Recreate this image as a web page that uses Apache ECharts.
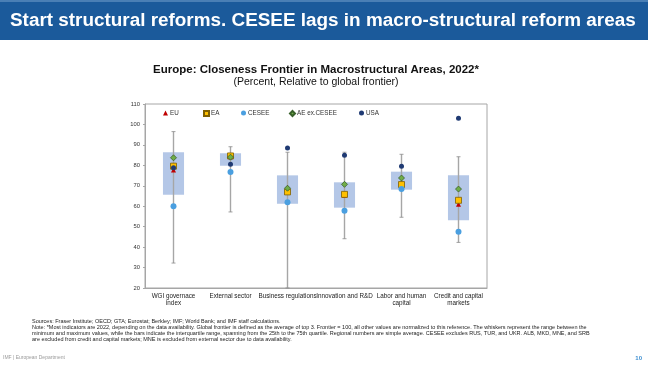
<!DOCTYPE html>
<html><head><meta charset="utf-8">
<script src="https://cdn.jsdelivr.net/npm/echarts@6/dist/echarts.min.js"></script>
<style>html,body{margin:0;padding:0;background:#fff}#c{width:648px;height:365px}</style>
</head><body><div id="c"></div>
<script>
const categories = ['WGI governace\nindex','External sector','Business regulations','Innovation and R&D','Labor and human\ncapital','Credit and capital\nmarkets'];
const whiskerMin = [32.2, 57.2, 20, 44.1, 54.6, 42.3];
const q1 = [65.6, 79.8, 61.2, 59.3, 68.1, 53.1];
const q3 = [86.4, 85.9, 75.1, 71.7, 76.9, 75.1];
const whiskerMax = [96.5, 89.1, 86.4, 86.4, 85.4, 84.2];
const eu = [77.7, 84.2, 69.2, 65.4, 71.0, 61.0];
const ea = [79.6, 84.6, 67.0, 65.8, 70.6, 62.9];
const cesee = [60.0, 76.7, 61.9, 57.8, 68.4, 47.5];
const aeExCesee = [83.7, 84.0, 68.8, 70.7, 73.8, 68.4];
const usa = [78.8, 80.5, 88.5, 84.9, 79.5, 103.0];
const yTicks = {min: 20, max: 110, interval: 10};

const chart = echarts.init(document.getElementById('c'), null, {renderer: 'canvas'});
const FONT = 'Liberation Sans, Arial, sans-serif';

const boxData = categories.map((c, i) => [i, whiskerMin[i], q1[i], q3[i], whiskerMax[i]]);

function mk(name, data, symbol, size, color, border) {
  return {
    name, type: 'scatter', data, symbol, symbolSize: size, z: 5,
    itemStyle: {color, borderColor: border || color, borderWidth: border ? 0.8 : 0, opacity: 1},
    emphasis: {disabled: true}
  };
}

const legendItems = [
  ['EU', 163], ['EA', 203], ['CESEE', 241], ['AE ex.CESEE', 289], ['USA', 359]
];

function txt(x, y, text, font, fill, align) {
  return {type: 'text', x, y, z: 10, style: {text, font, fill, align: align || 'left', verticalAlign: 'middle'}};
}

const notes = [
  'Sources: Fraser Institute; OECD; GTA; Eurostat; Berkley; IMF; World Bank; and IMF staff calculations.',
  'Note: *Most indicators are 2022, depending on the data availability. Global frontier is defined as the average of top 3. Frontier = 100, all other values are normalized to this reference. The whiskers represent the range between the',
  'minimum and maximum values, while the bars indicate the interquartile range, spanning from the 25th to the 75th quartile. Regional numbers are simple average. CESEE excludes RUS, TUR, and UKR. ALB, MKD, MNE, and SRB',
  'are excluded from credit and capital markets; MNE is excluded from external sector due to data availability.'
];

const option = {
  backgroundColor: '#fff',
  animation: false,
  grid: {left: 145, right: 161, top: 104, bottom: 77, show: true, borderColor: '#a6a6a6', borderWidth: 1, backgroundColor: 'transparent'},
  legend: legendItems.map(([n, x]) => ({
    data: [n], left: x, top: 110, itemWidth: 5, itemHeight: 5, itemGap: 2, padding: 0,
    textStyle: {fontFamily: FONT, fontSize: 6.3, color: '#333', padding: [0, 0, 0, -3]},
    selectedMode: false
  })),
  xAxis: {
    type: 'category', data: categories,
    axisLine: {show: true, lineStyle: {color: '#a6a6a6'}},
    axisTick: {show: false},
    axisLabel: {interval: 0, fontFamily: FONT, fontSize: 6.3, color: '#222', margin: 5, lineHeight: 7}
  },
  yAxis: {
    type: 'value', min: yTicks.min, max: yTicks.max, interval: yTicks.interval,
    axisLine: {show: true, lineStyle: {color: '#a6a6a6'}},
    axisTick: {show: true, length: 2, lineStyle: {color: '#a6a6a6'}},
    splitLine: {show: false},
    axisLabel: {fontFamily: FONT, fontSize: 5.8, color: '#333', margin: 5}
  },
  series: [
    {
      type: 'custom', z: 1, data: boxData,
      encode: {x: 0, y: [1, 2, 3, 4]},
      renderItem(params, api) {
        const i = api.value(0);
        const pMin = api.coord([i, api.value(1)]);
        const pQ1 = api.coord([i, api.value(2)]);
        const pQ3 = api.coord([i, api.value(3)]);
        const pMax = api.coord([i, api.value(4)]);
        const bw = api.size([1, 0])[0] * 0.37;
        const cap = 2;
        return {type: 'group', children: [
          {type: 'rect', shape: {x: pQ3[0] - bw / 2, y: pQ3[1], width: bw, height: pQ1[1] - pQ3[1]}, style: {fill: '#b4c7e7'}},
          {type: 'line', shape: {x1: pMin[0], y1: pMin[1], x2: pMax[0], y2: pMax[1]}, style: {stroke: '#a6a6a6', lineWidth: 1.4}},
          {type: 'line', shape: {x1: pMin[0] - cap, y1: pMin[1], x2: pMin[0] + cap, y2: pMin[1]}, style: {stroke: '#8c8c8c', lineWidth: 0.8}},
          {type: 'line', shape: {x1: pMax[0] - cap, y1: pMax[1], x2: pMax[0] + cap, y2: pMax[1]}, style: {stroke: '#8c8c8c', lineWidth: 0.8}}
        ]};
      }
    },
    mk('EU', eu, 'triangle', 5, '#c00000'),
    mk('EA', ea, 'rect', 6, '#ffc000', '#7f6000'),
    mk('CESEE', cesee, 'circle', 6, '#4a9fe0'),
    mk('AE ex.CESEE', aeExCesee, 'diamond', 6, '#70ad47', '#38602a'),
    mk('USA', usa, 'circle', 5, '#1f3a73')
  ],
  graphic: [
    {type: 'rect', left: 0, top: 0, shape: {width: 648, height: 40}, style: {fill: '#1b5a9b'}, z: 0},
    {type: 'rect', left: 0, top: 0, shape: {width: 648, height: 2}, style: {fill: '#4a7fb5'}, z: 0},
    txt(10, 20.5, 'Start structural reforms. CESEE lags in macro-structural reform areas', 'bold 18.9px ' + FONT, '#fff'),
    txt(316, 70, 'Europe: Closeness Frontier in Macrostructural Areas, 2022*', 'bold 11.5px ' + FONT, '#111', 'center'),
    txt(316, 82.5, '(Percent, Relative to global frontier)', '10.5px ' + FONT, '#111', 'center'),
    txt(32, 321, notes[0], '5.5px ' + FONT, '#222'),
    txt(32, 327, notes[1], '5.5px ' + FONT, '#222'),
    txt(32, 333, notes[2], '5.5px ' + FONT, '#222'),
    txt(32, 339, notes[3], '5.5px ' + FONT, '#222'),
    txt(3, 358, 'IMF | European Department', '5px ' + FONT, '#9a9a9a'),
    txt(642, 358, '10', 'bold 6px ' + FONT, '#3d8fd1', 'right')
  ]
};
chart.setOption(option);
</script></body></html>
